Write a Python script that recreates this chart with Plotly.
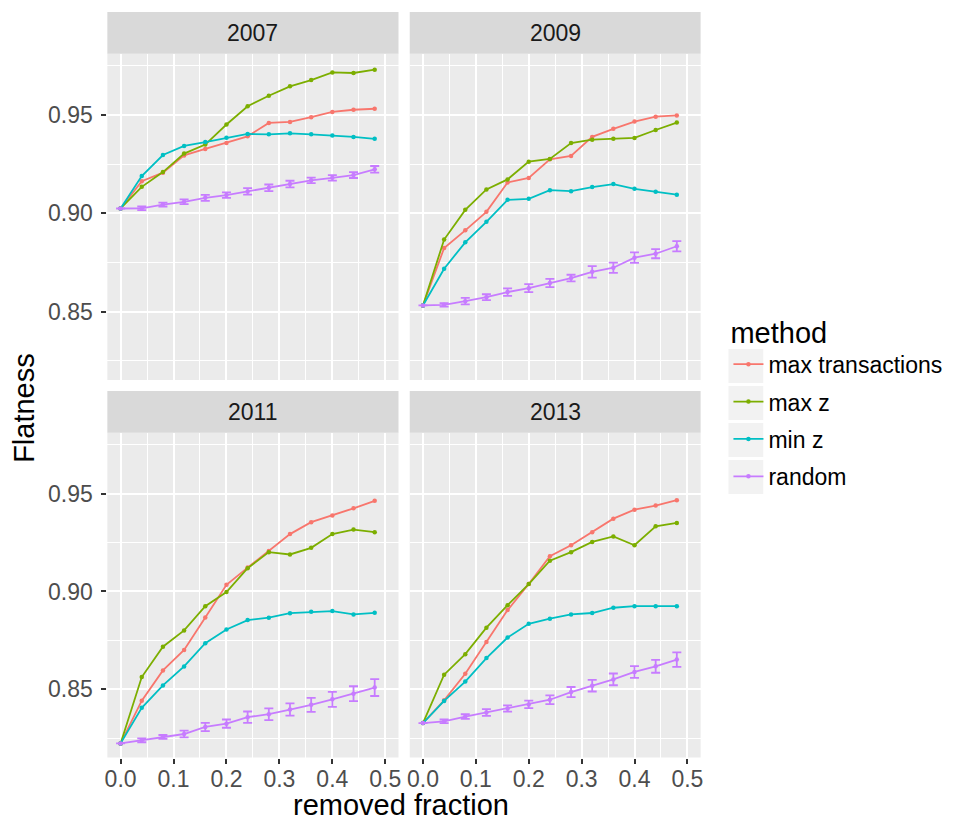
import plotly.graph_objects as go

# ---------------- data ----------------
removed_fraction = [0.0, 0.04, 0.08, 0.12, 0.16, 0.20, 0.24, 0.28, 0.32, 0.36, 0.40, 0.44, 0.48]
years = ["2007", "2009", "2011", "2013"]
methods = ["max transactions", "max z", "min z", "random"]

max_transactions_2007 = [0.9024, 0.9163, 0.9206, 0.9294, 0.9327, 0.9357, 0.9391, 0.9459, 0.9464, 0.9488, 0.9515, 0.9526, 0.9531]
max_z_2007 = [0.9024, 0.9134, 0.9209, 0.9303, 0.9349, 0.9451, 0.9544, 0.9597, 0.9645, 0.9677, 0.9716, 0.9713, 0.9730]
min_z_2007 = [0.9024, 0.9189, 0.9296, 0.9342, 0.9362, 0.9384, 0.9403, 0.9401, 0.9406, 0.9401, 0.9395, 0.9388, 0.9378]
random_2007 = [0.9024, 0.9025, 0.9044, 0.9058, 0.9078, 0.9092, 0.9111, 0.9129, 0.9148, 0.9167, 0.9180, 0.9194, 0.9223]
random_err_2007 = [0.0, 0.0009, 0.0010, 0.0012, 0.0015, 0.0014, 0.0017, 0.0017, 0.0017, 0.0014, 0.0014, 0.0015, 0.0017]

max_transactions_2009 = [0.8531, 0.8823, 0.8913, 0.9007, 0.9156, 0.9179, 0.9274, 0.9291, 0.9388, 0.9429, 0.9466, 0.9491, 0.9497]
max_z_2009 = [0.8531, 0.8866, 0.9017, 0.9121, 0.9172, 0.9262, 0.9276, 0.9357, 0.9374, 0.9378, 0.9383, 0.9423, 0.9461]
min_z_2009 = [0.8531, 0.8718, 0.8852, 0.8956, 0.9068, 0.9073, 0.9117, 0.9112, 0.9133, 0.9148, 0.9124, 0.9109, 0.9094]
random_2009 = [0.8531, 0.8534, 0.8553, 0.8573, 0.8599, 0.8619, 0.8645, 0.8670, 0.8702, 0.8723, 0.8774, 0.8794, 0.8832]
random_err_2009 = [0.0, 0.0009, 0.0017, 0.0015, 0.0019, 0.0020, 0.0021, 0.0017, 0.0029, 0.0026, 0.0027, 0.0023, 0.0026]

max_transactions_2011 = [0.8224, 0.8442, 0.8597, 0.8701, 0.8867, 0.9034, 0.9122, 0.9207, 0.9293, 0.9354, 0.9388, 0.9425, 0.9463]
max_z_2011 = [0.8224, 0.8563, 0.8718, 0.8801, 0.8925, 0.8997, 0.9119, 0.9201, 0.9189, 0.9223, 0.9293, 0.9316, 0.9303]
min_z_2011 = [0.8224, 0.8406, 0.8520, 0.8617, 0.8736, 0.8806, 0.8854, 0.8866, 0.8889, 0.8896, 0.8900, 0.8883, 0.8891]
random_2011 = [0.8224, 0.8240, 0.8257, 0.8272, 0.8308, 0.8325, 0.8358, 0.8373, 0.8397, 0.8421, 0.8449, 0.8478, 0.8509]
random_err_2011 = [0.0, 0.0010, 0.0010, 0.0017, 0.0021, 0.0021, 0.0029, 0.0030, 0.0031, 0.0036, 0.0038, 0.0038, 0.0043]

max_transactions_2013 = [0.8328, 0.8444, 0.8580, 0.8742, 0.8905, 0.9038, 0.9180, 0.9236, 0.9303, 0.9372, 0.9418, 0.9439, 0.9466]
max_z_2013 = [0.8328, 0.8575, 0.8680, 0.8815, 0.8930, 0.9038, 0.9157, 0.9201, 0.9253, 0.9281, 0.9236, 0.9333, 0.9350]
min_z_2013 = [0.8328, 0.8441, 0.8540, 0.8660, 0.8765, 0.8835, 0.8861, 0.8883, 0.8890, 0.8917, 0.8925, 0.8925, 0.8925]
random_2013 = [0.8328, 0.8337, 0.8361, 0.8382, 0.8402, 0.8423, 0.8447, 0.8486, 0.8519, 0.8551, 0.8589, 0.8618, 0.8652]
random_err_2013 = [0.0, 0.0009, 0.0012, 0.0017, 0.0016, 0.0019, 0.0022, 0.0026, 0.0030, 0.0030, 0.0030, 0.0033, 0.0037]

y_ticks = [0.85, 0.90, 0.95]
x_ticks = [0.0, 0.1, 0.2, 0.3, 0.4, 0.5]

# ---------------- assembly ----------------
series = {
    "2007": [max_transactions_2007, max_z_2007, min_z_2007, random_2007, random_err_2007],
    "2009": [max_transactions_2009, max_z_2009, min_z_2009, random_2009, random_err_2009],
    "2011": [max_transactions_2011, max_z_2011, min_z_2011, random_2011, random_err_2011],
    "2013": [max_transactions_2013, max_z_2013, min_z_2013, random_2013, random_err_2013],
}
colors = ["#F8766D", "#7CAE00", "#00BFC4", "#C77CFF"]

W, H = 961, 821
FONT = "Liberation Sans, Arial, Helvetica, sans-serif"

# panel pixel boxes (left, right, top, bottom)
px_cols = [(105, 398), (409.3, 702)]
px_rows = [(53.7, 380), (432.7, 757.5)]
strip_h = 41.7

fig = go.Figure()
axis_ids = ["", "2", "3", "4"]
for i, year in enumerate(years):
    ax = axis_ids[i]
    vals = series[year]
    for m, name in enumerate(methods):
        tr = dict(
            x=removed_fraction, y=vals[m], mode="lines+markers", name=name,
            legendgroup=name, showlegend=(i == 0),
            line=dict(color=colors[m], width=1.8),
            marker=dict(color=colors[m], size=4.5),
            xaxis="x" + ax, yaxis="y" + ax,
        )
        if name == "random":
            tr["error_y"] = dict(type="data", array=vals[4], visible=True,
                                 color=colors[m], thickness=1.8, width=4.5)
        fig.add_trace(go.Scatter(**tr))

layout = dict(
    width=W, height=H, margin=dict(l=0, r=0, t=0, b=0),
    paper_bgcolor="white", plot_bgcolor="#EBEBEB",
    font=dict(family=FONT, size=23, color="#4D4D4D"),
    showlegend=True,
    legend=dict(
        x=730 / W, xanchor="left", y=1 - 305 / H, yanchor="top",
        title=dict(text="method", font=dict(size=29, color="black", family=FONT)),
        font=dict(size=23, color="black", family=FONT),
        tracegroupgap=4.5, bgcolor="rgba(0,0,0,0)",
    ),
)

shapes = []
annotations = []
for i, year in enumerate(years):
    r, c = divmod(i, 2)
    ax = axis_ids[i]
    xl, xr = px_cols[c]
    yt, yb = px_rows[r]
    bottom = (r == 1)
    left = (c == 0)
    layout["xaxis" + ax] = dict(
        domain=[xl / W, xr / W], anchor="y" + ax, range=[-0.025, 0.525],
        tickvals=x_ticks, tickformat=".1f", showticklabels=bottom,
        ticks="outside" if bottom else "", ticklen=5, tickwidth=1.5, tickcolor="#333333",
        showgrid=True, gridcolor="white", gridwidth=1.6, zeroline=False, showline=False,
        minor=dict(dtick=0.05, tick0=0.0, showgrid=True, gridcolor="white", gridwidth=0.7, ticks=""),
        tickfont=dict(size=23, color="#4D4D4D", family=FONT),
        ticklabelstandoff=-4,
    )
    layout["yaxis" + ax] = dict(
        domain=[1 - yb / H, 1 - yt / H], anchor="x" + ax, range=[0.8152, 0.9811],
        tickvals=y_ticks, tickformat=".2f", showticklabels=left,
        ticks="outside" if left else "", ticklen=5, tickwidth=1.5, tickcolor="#333333",
        showgrid=True, gridcolor="white", gridwidth=1.6, zeroline=False, showline=False,
        minor=dict(dtick=0.025, tick0=0.825, showgrid=True, gridcolor="white", gridwidth=0.7, ticks=""),
        tickfont=dict(size=23, color="#4D4D4D", family=FONT),
        ticklabelstandoff=4,
    )
    # facet strip
    shapes.append(dict(type="rect", xref="paper", yref="paper",
                       x0=xl / W, x1=xr / W, y0=1 - yt / H, y1=1 - (yt - strip_h) / H,
                       fillcolor="#D9D9D9", line=dict(width=0), layer="below"))
    annotations.append(dict(text=year, xref="paper", yref="paper",
                            x=(xl + xr) / 2 / W, y=1 - (yt - strip_h / 2) / H,
                            xanchor="center", yanchor="middle", showarrow=False,
                            font=dict(size=23, color="#1A1A1A", family=FONT)))

# legend key backgrounds (ggplot grey95 key boxes)
for k in range(len(methods)):
    cy = 366 + 37 * k
    shapes.append(dict(type="rect", xref="paper", yref="paper",
                       x0=730 / W, x1=765 / W, y0=1 - (cy + 17) / H, y1=1 - (cy - 17) / H,
                       fillcolor="#F2F2F2", line=dict(width=0), layer="below"))

annotations.append(dict(text="removed fraction", xref="paper", yref="paper",
                        x=400 / W, y=1 - 805 / H, xanchor="center", yanchor="middle",
                        showarrow=False, font=dict(size=29, color="black", family=FONT)))
annotations.append(dict(text="Flatness", xref="paper", yref="paper",
                        x=21 / W, y=1 - 408 / H, xanchor="center", yanchor="middle",
                        textangle=-90, showarrow=False,
                        font=dict(size=29, color="black", family=FONT)))

layout["shapes"] = shapes
layout["annotations"] = annotations
fig.update_layout(**layout)
fig.write_html("out.html")
